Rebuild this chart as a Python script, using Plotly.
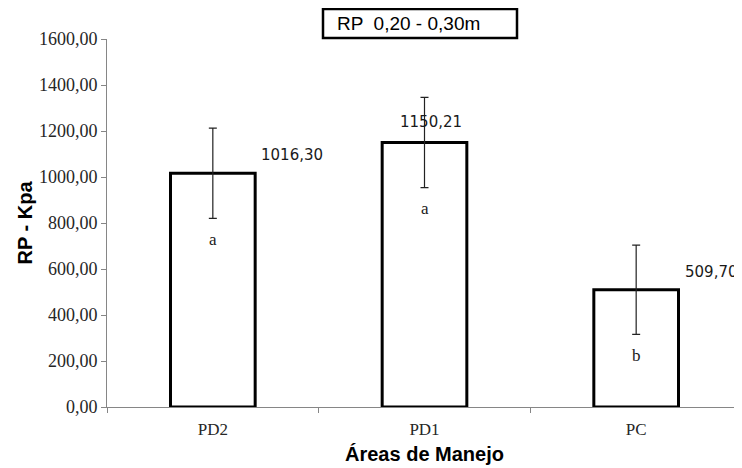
import plotly.graph_objects as go

categories = ["PD2", "PD1", "PC"]
values = [1016.30, 1150.21, 509.70]
errors = [196, 196, 194]
letters = ["a", "a", "b"]
y_ticks = [0, 200, 400, 600, 800, 1000, 1200, 1400, 1600]
title_text = "RP  0,20 - 0,30m"

# the page body adds an 8px margin; place figure so the plot area lands where the reference has it
O = 8
W, H = 742 - O, 468 - O
L, R, T, B = 107 - O, 742 - O, 39 - O, 407 - O
px = lambda x: (x - O - L) / (R - L)
py = lambda y: (B - (y - O)) / (B - T)

fig = go.Figure()
fig.add_trace(go.Bar(
    x=categories, y=values,
    width=0.40,
    marker=dict(color="white", line=dict(color="black", width=3)),
    error_y=dict(type="data", array=errors, visible=True,
                 color="#222222", thickness=1.2, width=4),
    showlegend=False,
))

annotations = []
label_shift = [(79, 18), (6, 20), (75, 18)]
for c, v, (dx, dy) in zip(categories, values, label_shift):
    annotations.append(dict(
        x=c, y=v, xref="x", yref="y", text=f"{v:.2f}".replace(".", ","),
        showarrow=False, xshift=dx, yshift=dy,
        font=dict(family="DejaVu Sans", size=15, color="#1a1a1a"),
    ))
for c, v, e, l in zip(categories, values, errors, letters):
    annotations.append(dict(
        x=c, y=v - e, xref="x", yref="y", text=l,
        showarrow=False, yshift=-21,
        font=dict(family="Liberation Serif", size=17, color="#1a1a1a"),
    ))
annotations.append(dict(
    x=px(335), y=py(23), xref="paper", yref="paper",
    xanchor="left", yanchor="middle",
    text=title_text, showarrow=False,
    font=dict(family="Liberation Sans", size=19, color="black"),
))
shapes = [dict(type="rect", xref="paper", yref="paper",
               x0=px(323), x1=px(517), y0=py(38), y1=py(9),
               line=dict(color="black", width=2.5), fillcolor="rgba(0,0,0,0)")]

fig.update_layout(
    width=W, height=H,
    margin=dict(l=L, r=W - R, t=T, b=H - B, pad=0),
    paper_bgcolor="white", plot_bgcolor="white",
    separators=",.",
    annotations=annotations,
    shapes=shapes,
    xaxis=dict(
        automargin=False,
        showline=True, linecolor="#868686", linewidth=1,
        ticks="outside", tickson="boundaries", ticklen=5, tickcolor="#868686",
        ticklabelstandoff=7,
        showgrid=False,
        tickfont=dict(family="Liberation Serif", size=17, color="#262626"),
        title=dict(text="<b>Áreas de Manejo</b>", standoff=8,
                   font=dict(family="Liberation Sans", size=20, color="black")),
    ),
    yaxis=dict(
        automargin=False,
        range=[0, 1600], tickvals=y_ticks, tickformat=".2f",
        showline=True, linecolor="#868686", linewidth=1,
        ticks="outside", ticklen=5, tickcolor="#868686",
        showgrid=False, zeroline=False,
        tickfont=dict(family="Liberation Serif", size=18, color="#262626"),
        title=dict(text="<b>RP - Kpa</b>", standoff=0,
                   font=dict(family="Liberation Sans", size=20, color="black")),
    ),
)

fig.write_html("out.html")
